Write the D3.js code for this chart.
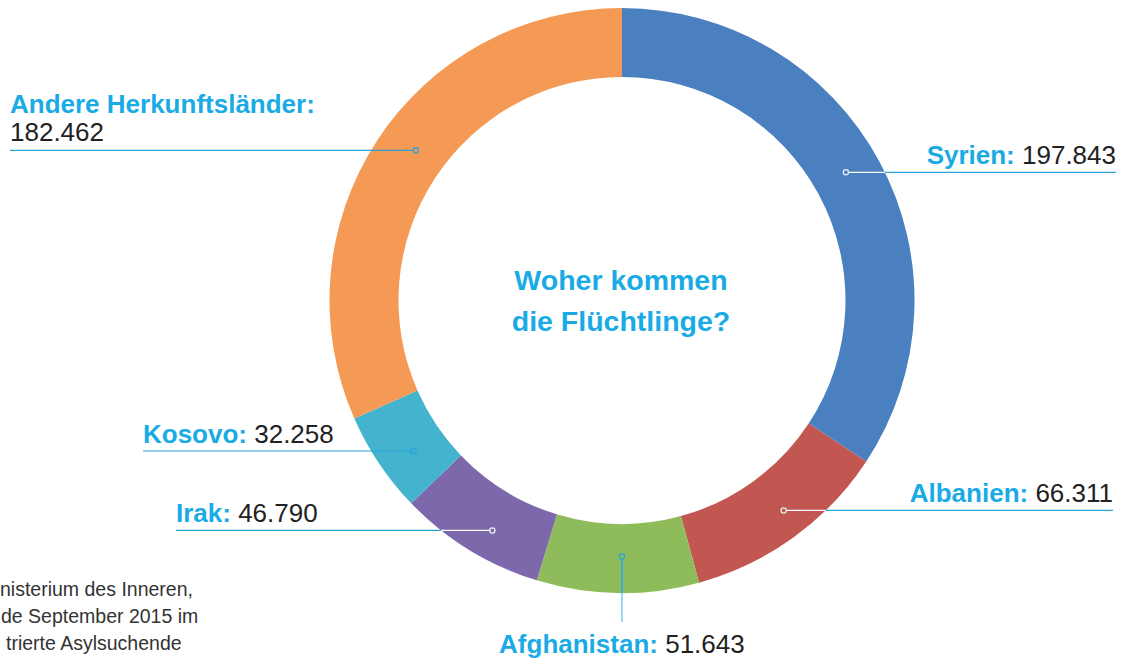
<!DOCTYPE html>
<html>
<head>
<meta charset="utf-8">
<script src="https://cdn.jsdelivr.net/npm/d3@7"></script>
<style>
  html, body { margin: 0; padding: 0; background: #fff; }
  svg { display: block; font-family: "Liberation Sans", Arial, Helvetica, sans-serif; }
</style>
</head>
<body>
<svg id="chart" width="1121" height="662"></svg>
<script>
// data
const countries = ["Syrien", "Albanien", "Afghanistan", "Irak", "Kosovo", "Andere Herkunftsländer"];
const values = [197843, 66311, 51643, 46790, 32258, 182462];
const valueLabels = ["197.843", "66.311", "51.643", "46.790", "32.258", "182.462"];
const colors = ["#4a80c0", "#c25752", "#8fbc5a", "#7d68ab", "#44b3cd", "#f59a55"];
const titleLines = ["Woher kommen", "die Flüchtlinge?"];
// the source note is cut at the left edge of the picture
const sourceLines = [
  "nisterium des Inneren,",
  "de September 2015 im",
  "trierte Asylsuchende"
];

const width = 1121, height = 662;
const cx = 622, cy = 300.5;
const outerR = 292.5, innerR = 223.5;
const blue = "#1aabe5";
const lineBlue = "#2aa3dc";

// label layout per country: side, where on the slice the dot sits (fraction, radius),
// line end, colour of the leader inside the ring
const labelLayout = {
  "Syrien": { side: "right", at: 0.488, r: 258, x: 1116, inner: "#ffffff" },
  "Albanien": { side: "right", at: 0.46, r: 265, x: 1113, inner: "#ffffff" },
  "Afghanistan": { side: "bottom", at: 0.475, r: 256, y: 622, inner: lineBlue },
  "Irak": { side: "left", at: 0.428, r: 264, x: 176, inner: "#ffffff" },
  "Kosovo": { side: "left", at: 0.40, r: 257, x: 143, inner: lineBlue },
  "Andere Herkunftsländer": { side: "left", at: 0.526, r: 255, x: 10, inner: lineBlue, twoLines: true }
};

const svg = d3.select("#chart");
const g = svg.append("g").attr("transform", `translate(${cx},${cy})`);

const pie = d3.pie().sort(null).value((d, i) => values[i]);
const arcs = pie(countries);
const arc = d3.arc().innerRadius(innerR).outerRadius(outerR);

g.selectAll("path.slice")
  .data(arcs)
  .join("path")
  .attr("class", "slice")
  .attr("d", arc)
  .attr("fill", (d, i) => colors[i]);

// leaders and labels
const labels = svg.append("g");
arcs.forEach((a, i) => {
  const name = countries[i];
  const lay = labelLayout[name];
  const ang = a.startAngle + (a.endAngle - a.startAngle) * lay.at;
  const dx = lay.r * Math.sin(ang), dy = -lay.r * Math.cos(ang);
  const px = cx + dx, py = cy + dy;

  if (lay.side === "bottom") {
    const edgeY = cy + Math.sqrt(outerR * outerR - dx * dx);
    labels.append("line")
      .attr("x1", px).attr("y1", py).attr("x2", px).attr("y2", lay.y)
      .attr("stroke", "#7fd0f2").attr("stroke-width", 1.6);
    labels.append("line")
      .attr("x1", px).attr("y1", py).attr("x2", px).attr("y2", edgeY)
      .attr("stroke", lay.inner).attr("stroke-width", 1.6);
    const t = labels.append("text")
      .attr("x", px).attr("y", 653)
      .attr("text-anchor", "middle")
      .attr("font-size", 26);
    t.append("tspan").attr("font-weight", "bold").attr("fill", blue).text(name + ":");
    t.append("tspan").attr("fill", "#222").text(" " + valueLabels[i]);
  } else {
    // where the horizontal leader leaves the ring
    const s = lay.side === "right" ? 1 : -1;
    const edgeX = cx + s * Math.sqrt(Math.max(0, outerR * outerR - dy * dy));
    labels.append("line")
      .attr("x1", edgeX).attr("y1", py).attr("x2", lay.x).attr("y2", py)
      .attr("stroke", lineBlue).attr("stroke-width", 1.2);
    labels.append("line")
      .attr("x1", px).attr("y1", py).attr("x2", edgeX).attr("y2", py)
      .attr("stroke", lay.inner).attr("stroke-width", 1.2);

    if (lay.twoLines) {
      labels.append("text")
        .attr("x", lay.x).attr("y", py - 37)
        .attr("font-size", 26).attr("font-weight", "bold").attr("fill", blue)
        .text(name + ":");
      labels.append("text")
        .attr("x", lay.x).attr("y", py - 9)
        .attr("font-size", 26).attr("fill", "#222")
        .text(valueLabels[i]);
    } else {
      const t = labels.append("text")
        .attr("x", lay.x).attr("y", py - 8.5)
        .attr("text-anchor", lay.side === "right" ? "end" : "start")
        .attr("font-size", 26);
      t.append("tspan").attr("font-weight", "bold").attr("fill", blue).text(name + ":");
      t.append("tspan").attr("fill", "#222").text(" " + valueLabels[i]);
    }
  }
  labels.append("circle")
    .attr("cx", px).attr("cy", py).attr("r", 2.6)
    .attr("fill", colors[i])
    .attr("stroke", lay.inner === "#ffffff" ? "#e8eef5" : lineBlue)
    .attr("stroke-width", 1.3);
});

// centre title
svg.append("g").selectAll("text")
  .data(titleLines)
  .join("text")
  .attr("x", 621)
  .attr("y", (d, i) => 290 + i * 41)
  .attr("text-anchor", "middle")
  .attr("font-size", 28.5)
  .attr("font-weight", "bold")
  .attr("fill", blue)
  .text(d => d);

// source note
const sourceStarts = [0, 1, 6];
svg.append("g").selectAll("text")
  .data(sourceLines)
  .join("text")
  .attr("x", (d, i) => sourceStarts[i])
  .attr("y", (d, i) => 596 + i * 27)
  .attr("font-size", 19.5)
  .attr("fill", "#333")
  .text(d => d);
</script>
</body>
</html>
